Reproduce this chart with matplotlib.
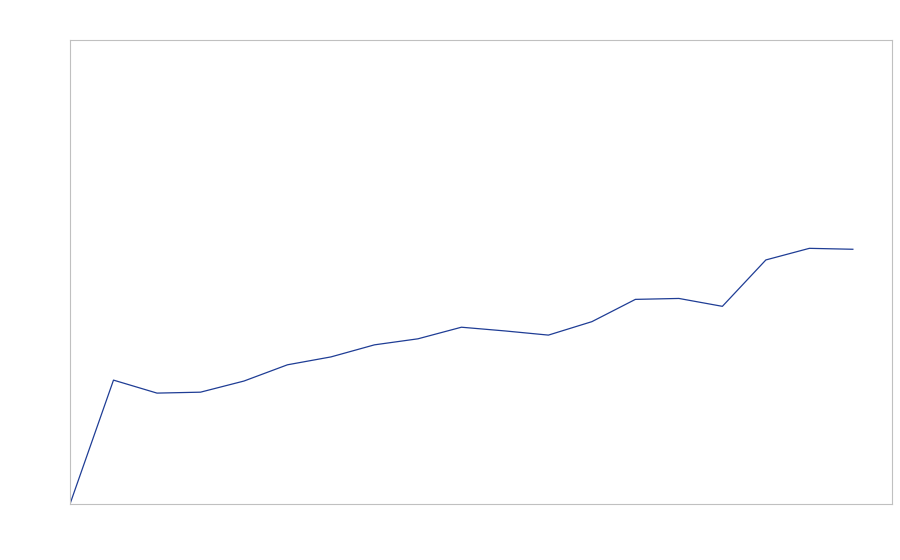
import matplotlib
matplotlib.use("Agg")
import matplotlib.pyplot as plt

# values (y on a 0-100 scale, no tick labels shown)
steps = list(range(19))
values = [0.0, 26.7, 23.9, 24.1, 26.5, 30.0, 31.7, 34.3, 35.6, 38.1,
          37.3, 36.4, 39.3, 44.1, 44.3, 42.6, 52.6, 55.1, 54.9]

fig = plt.figure(figsize=(9, 5.6), dpi=100)
ax = fig.add_axes([70 / 900, 56 / 560, 822 / 900, 464 / 560])
ax.plot(steps, values, color="#1f3d95", linewidth=0.9)
ax.set_xlim(0, 18.9)
ax.set_ylim(0, 100)
ax.set_xticks([]); ax.set_yticks([])
for sp in ax.spines.values():
    sp.set_color("#c0c0c0")
    sp.set_linewidth(0.8)

fig.savefig("out.png", dpi=100)
